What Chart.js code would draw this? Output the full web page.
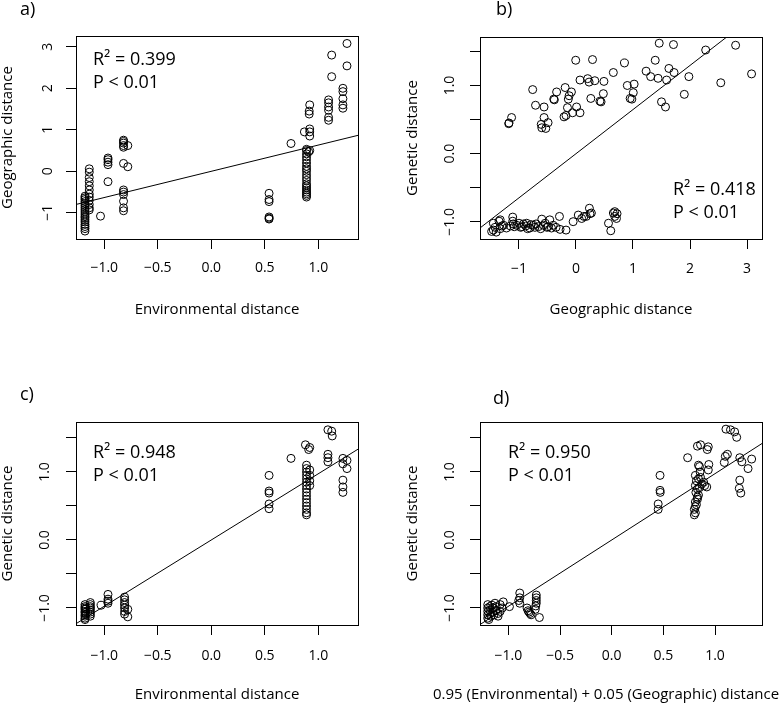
<!DOCTYPE html>
<html>
<head>
<meta charset="utf-8">
<title>Distance regressions</title>
<script src="https://cdn.jsdelivr.net/npm/chart.js@4.4.1/dist/chart.umd.min.js"></script>
<style>
  html, body { margin: 0; padding: 0; background: #fff; }
  #wrap { position: relative; width: 780px; height: 704px; overflow: hidden; }
  #wrap canvas { position: absolute; }
</style>
</head>
<body>
<div id="wrap">
  <canvas id="panelA" width="390" height="352" style="left:0;top:0"></canvas>
  <canvas id="panelB" width="390" height="352" style="left:390px;top:0"></canvas>
  <canvas id="panelC" width="390" height="352" style="left:0;top:352px"></canvas>
  <canvas id="panelD" width="390" height="352" style="left:390px;top:352px"></canvas>
</div>
<script>
/* ── Data ([x, y] pairs) ── */

// a) environmental vs geographic distance
const envGeoA = [
  [-1.18,-0.60],[-1.18,-0.64],[-1.18,-0.68],[-1.18,-0.73],[-1.18,-0.78],[-1.18,-0.83],[-1.18,-0.88],[-1.18,-0.93],
  [-1.18,-0.98],[-1.18,-1.03],[-1.18,-1.08],[-1.18,-1.12],[-1.18,-1.17],[-1.18,-1.22],[-1.18,-1.28],[-1.18,-1.33],
  [-1.18,-1.38],[-1.18,-1.44],
  [-1.14,0.06],[-1.14,-0.02],[-1.14,-0.15],[-1.14,-0.25],[-1.14,-0.35],[-1.14,-0.45],[-1.14,-0.55],[-1.14,-0.62],
  [-1.14,-0.70],[-1.14,-0.80],[-1.14,-0.88],[-1.14,-0.93],
  [-1.035,-1.08],
  [-0.965,0.32],[-0.965,0.28],[-0.965,0.22],[-0.965,0.16],[-0.965,-0.25],
  [-0.82,0.75],[-0.82,0.72],[-0.82,0.68],[-0.82,0.62],[-0.82,0.58],[-0.78,0.62],[-0.82,0.19],[-0.78,0.11],
  [-0.82,-0.45],[-0.82,-0.50],[-0.82,-0.56],[-0.82,-0.72],[-0.82,-0.88],[-0.82,-0.95],
  [0.54,-0.53],[0.54,-0.68],[0.54,-0.73],[0.54,-1.10],[0.54,-1.13],[0.54,-1.15],
  [0.745,0.67],
  [0.89,-0.62],[0.89,-0.58],[0.89,-0.54],[0.89,-0.50],[0.89,-0.45],[0.89,-0.40],[0.89,-0.35],[0.89,-0.30],
  [0.89,-0.22],[0.89,-0.15],[0.89,-0.08],[0.89,0.00],[0.89,0.06],[0.89,0.12],[0.89,0.20],[0.89,0.28],
  [0.89,0.35],[0.89,0.42],[0.89,0.50],[0.89,0.53],
  [0.87,0.95],[0.91,0.47],[0.92,0.50],[0.92,0.85],[0.92,0.95],[0.92,1.02],[0.915,1.38],[0.915,1.45],[0.92,1.60],
  [1.096,1.72],[1.096,1.65],[1.096,1.55],[1.096,1.47],[1.096,1.30],[1.096,1.23],
  [1.125,2.80],[1.125,2.28],
  [1.23,2.00],[1.23,1.92],[1.23,1.75],[1.23,1.60],[1.23,1.52],
  [1.268,3.08],[1.268,2.54]
];

// b) geographic vs genetic distance
const geoGenB = [
  [-1.175,0.45],[-1.18,0.44],[-1.13,0.53],[-0.76,0.94],[-0.71,0.71],[-0.56,0.685],[-0.61,0.43],[-0.56,0.53],
  [-0.60,0.38],[-0.53,0.37],[-0.49,0.455],[-0.39,0.80],[-0.38,0.79],[-0.34,0.905],[-0.19,0.97],[-0.12,0.85],
  [-0.135,0.80],[-0.08,0.905],[-0.15,0.675],[-0.21,0.54],[-0.175,0.56],[-0.06,0.60],[0.01,0.685],[0.07,0.60],
  [-0.005,1.37],[0.07,1.08],[0.205,1.10],[0.23,1.05],[0.29,1.38],[0.33,1.07],[0.49,1.06],[0.48,0.88],
  [0.26,0.81],[0.42,0.77],[0.44,0.76],[0.655,1.19],[0.85,1.33],[0.90,1.00],[1.02,1.02],[1.005,0.895],
  [0.95,0.81],[0.98,0.80],[1.23,1.21],[1.31,1.13],[1.39,1.37],[1.44,1.105],[1.46,1.62],[1.59,1.08],
  [1.63,1.25],[1.72,1.19],[1.71,1.60],[1.50,0.76],[1.57,0.685],[1.90,0.87],[1.98,1.13],[2.275,1.52],
  [2.54,1.04],[2.80,1.59],[3.08,1.17],
  [-1.48,-1.14],[-1.45,-1.02],[-1.45,-1.12],[-1.42,-1.08],[-1.40,-1.15],[-1.35,-0.99],[-1.33,-0.97],[-1.33,-1.10],
  [-1.30,-1.06],[-1.27,-1.05],[-1.22,-1.09],[-1.15,-1.06],[-1.11,-0.93],[-1.11,-0.99],[-1.10,-1.03],[-1.08,-1.07],
  [-1.04,-1.05],[-1.00,-1.02],[-0.97,-1.08],[-0.95,-1.07],[-0.92,-1.03],[-0.88,-1.06],[-0.865,-1.02],[-0.85,-1.10],
  [-0.81,-1.09],[-0.79,-1.04],[-0.75,-1.05],[-0.72,-1.08],[-0.70,-1.03],[-0.66,-1.07],[-0.62,-1.10],[-0.60,-0.96],
  [-0.57,-1.05],[-0.54,-1.02],[-0.51,-1.08],[-0.49,-1.07],[-0.46,-0.97],[-0.43,-1.09],[-0.40,-1.05],[-0.35,-1.08],
  [-0.29,-0.92],[-0.28,-1.11],[-0.175,-1.12],[-0.05,-0.997],[0.04,-0.90],[0.10,-0.95],[0.14,-0.92],[0.18,-0.92],
  [0.235,-0.80],[0.245,-0.88],[0.27,-0.87],[0.57,-1.02],[0.61,-1.13],[0.655,-0.87],[0.68,-0.85],[0.72,-0.88],
  [0.68,-0.92],[0.71,-0.95]
];

// c) environmental vs genetic distance
const envGenC = [
  [-1.18,-0.95],[-1.18,-0.98],[-1.18,-1.00],[-1.18,-1.02],[-1.18,-1.05],[-1.18,-1.07],[-1.18,-1.10],[-1.18,-1.12],
  [-1.18,-1.15],[-1.18,-1.17],[-1.17,-1.01],[-1.17,-1.09],
  [-1.13,-0.92],[-1.13,-0.95],[-1.13,-0.98],[-1.13,-1.00],[-1.13,-1.03],[-1.13,-1.06],[-1.13,-1.09],[-1.13,-1.12],
  [-1.03,-0.96],
  [-0.965,-0.80],[-0.965,-0.87],[-0.965,-0.90],[-0.965,-0.93],
  [-0.81,-0.84],[-0.81,-0.88],[-0.81,-0.92],[-0.81,-0.96],[-0.81,-1.00],[-0.81,-1.05],[-0.81,-1.09],
  [-0.78,-1.02],[-0.78,-1.13],
  [0.54,0.95],[0.54,0.72],[0.54,0.69],[0.54,0.53],[0.54,0.46],
  [0.745,1.20],
  [0.89,1.10],[0.89,1.05],[0.89,1.00],[0.89,0.95],[0.89,0.90],[0.89,0.85],[0.89,0.80],[0.89,0.75],
  [0.89,0.70],[0.89,0.65],[0.89,0.60],[0.89,0.55],[0.89,0.50],[0.89,0.45],[0.89,0.40],[0.89,0.37],
  [0.88,1.40],[0.92,1.36],[0.91,1.33],[0.92,1.03],[0.92,0.95],[0.92,0.87],[0.92,0.80],
  [1.09,1.62],[1.09,1.26],[1.09,1.21],[1.09,1.15],[1.125,1.60],[1.13,1.53],
  [1.23,1.20],[1.23,1.12],[1.23,0.88],[1.23,0.78],[1.23,0.70],[1.268,1.17],[1.268,1.05]
];

// d) 0.95 env + 0.05 geo vs genetic distance
const mixGenD = [
  [-1.20,-0.95],[-1.20,-1.00],[-1.20,-1.05],[-1.20,-1.10],[-1.20,-1.15],[-1.19,-1.17],[-1.18,-0.98],[-1.18,-1.03],
  [-1.18,-1.08],[-1.17,-1.12],[-1.16,-0.96],[-1.15,-1.00],[-1.15,-1.06],[-1.14,-1.10],[-1.13,-0.93],[-1.12,-0.98],
  [-1.12,-1.04],[-1.10,-1.08],[-1.10,-1.12],[-1.08,-0.95],[-1.08,-1.05],[-1.06,-1.00],[-1.05,-0.91],
  [-0.99,-0.98],
  [-0.89,-0.78],[-0.89,-0.85],[-0.90,-0.89],[-0.89,-0.93],
  [-0.73,-0.81],[-0.73,-0.85],[-0.73,-0.89],[-0.73,-0.93],[-0.735,-0.97],[-0.74,-1.02],
  [-0.82,-1.00],[-0.81,-1.04],[-0.80,-1.06],[-0.79,-1.08],[-0.78,-1.10],[-0.70,-1.14],
  [0.468,0.95],[0.468,0.73],[0.47,0.70],[0.45,0.53],[0.45,0.45],
  [0.735,1.21],[0.83,1.38],[0.86,1.40],[0.935,1.37],[0.925,1.33],
  [0.84,1.10],[0.855,1.00],[0.81,0.95],[0.82,0.87],[0.89,0.85],[0.81,0.80],[0.90,0.80],[0.815,0.70],
  [0.83,0.63],[0.81,0.56],[0.81,0.49],[0.80,0.45],[0.81,0.40],[0.80,0.37],[0.94,1.11],[0.935,1.03],
  [0.85,1.08],[0.84,0.90],[0.85,0.77],[0.83,0.75],[0.87,0.82],[0.92,0.78],[0.82,0.52],[0.84,0.66],
  [0.83,0.60],[0.86,0.92],
  [1.10,1.23],[1.12,1.26],[1.09,1.14],[1.106,1.63],[1.15,1.62],[1.19,1.59],[1.21,1.51],
  [1.24,1.21],[1.26,1.15],[1.355,1.19],[1.32,1.05],[1.24,0.88],[1.235,0.76],[1.25,0.69]
];

// regression slopes (standardised, intercept 0) and printed stats
const fitSlopes    = [0.632, 0.647, 0.974, 0.975];
const r2Values     = ['0.399', '0.418', '0.948', '0.950'];
const panelTags    = ['a)', 'b)', 'c)', 'd)'];

// axis ticks and labels
const ticksHalf     = [-1, -0.5, 0, 0.5, 1];
const ticksHalfLbl  = ['\u22121.0', '\u22120.5', '0.0', '0.5', '1.0'];
const ticksUnitGeo  = [-1, 0, 1, 2, 3];
const ticksUnitLbl  = ['\u22121', '0', '1', '2', '3'];
const ticksGen      = [-1, -0.5, 0, 0.5, 1, 1.5];
const ticksGenLbl   = ['\u22121.0', '', '0.0', '', '1.0', ''];

const FONT = '"Open Sans", "Liberation Sans", sans-serif';

/* ── Frame + panel tag + stats text ── */
const panelDecor = {
  id: 'panelDecor',
  afterDraw(chart, args, o) {
    const ctx = chart.ctx, a = chart.chartArea;
    ctx.save();
    ctx.strokeStyle = '#000';
    ctx.lineWidth = 1;
    ctx.strokeRect(Math.round(a.left) + 0.5, Math.round(a.top) + 0.5,
                   Math.round(a.right - a.left), Math.round(a.bottom - a.top));
    ctx.fillStyle = '#000';
    ctx.textBaseline = 'middle';
    ctx.textAlign = 'left';
    ctx.font = '18px ' + FONT;
    ctx.fillText(o.tag, o.tagX, o.tagY);
    ctx.fillText('R\u00b2 = ' + o.r2, o.statX, o.statY);
    ctx.fillText('P < 0.01', o.statX, o.statY + 23);
    if (o.xTitle) {
      ctx.font = '15px ' + FONT;
      ctx.textAlign = 'center';
      ctx.fillText(o.xTitle, o.xTitleX, o.xTitleY);
    }
    ctx.restore();
  }
};

/* ── One scatter panel ── */
function makePanel(id, c) {
  const fitLine = [c.xMin, c.xMax].map(x => ({ x: x, y: c.slope * x }));
  return new Chart(document.getElementById(id), {
    type: 'scatter',
    data: {
      datasets: [
        {
          data: c.points.map(p => ({ x: p[0], y: p[1] })),
          pointRadius: 4, pointHoverRadius: 4,
          borderColor: '#000', borderWidth: 1,
          backgroundColor: 'rgba(0,0,0,0)'
        },
        {
          type: 'line', data: fitLine,
          borderColor: '#000', borderWidth: 1,
          pointRadius: 0, fill: false, tension: 0
        }
      ]
    },
    options: {
      responsive: false,
      animation: false,
      events: [],
      layout: { padding: { top: c.top, right: c.right, left: 0, bottom: 0 } },
      plugins: {
        legend: { display: false },
        tooltip: { enabled: false },
        panelDecor: c.decor
      },
      scales: {
        x: {
          type: 'linear', min: c.xMin, max: c.xMax,
          afterBuildTicks: s => { s.ticks = c.xTicks.map(v => ({ value: v })); },
          afterFit: s => { s.height = c.xAxisH; },
          grid: { drawOnChartArea: false, drawTicks: true, tickLength: 10, color: '#000', lineWidth: 1 },
          border: { display: false },
          ticks: {
            color: '#000', font: { family: FONT, size: 14 }, padding: c.xTickPad,
            autoSkip: false, maxRotation: 0, minRotation: 0,
            callback: (v, i) => c.xLabels[i]
          },
          title: {
            display: !!c.xTitle, text: c.xTitle, color: '#000',
            font: { family: FONT, size: 15, lineHeight: 1 },
            padding: { top: 0, bottom: c.xTitlePad }
          }
        },
        y: {
          type: 'linear', min: c.yMin, max: c.yMax,
          afterBuildTicks: s => { s.ticks = c.yTicks.map(v => ({ value: v })); },
          afterFit: s => { s.width = c.yAxisW; },
          grid: { drawOnChartArea: false, drawTicks: true, tickLength: 10, color: '#000', lineWidth: 1 },
          border: { display: false },
          ticks: {
            color: '#000', font: { family: FONT, size: 14 }, padding: c.yTickPad,
            autoSkip: false, minRotation: 90, maxRotation: 90, crossAlign: 'center',
            callback: (v, i) => c.yLabels[i]
          },
          title: {
            display: true, text: c.yTitle, color: '#000',
            font: { family: FONT, size: 15, lineHeight: 1 },
            padding: { top: c.yTitlePad, bottom: 0 }
          }
        }
      }
    },
    plugins: [panelDecor]
  });
}

makePanel('panelA', {
  points: envGeoA, slope: fitSlopes[0],
  xMin: -1.264, xMax: 1.371, yMin: -1.631, yMax: 3.26,
  top: 36, right: 32, yAxisW: 76, xAxisH: 113,
  xTicks: ticksHalf, xLabels: ticksHalfLbl, yTicks: ticksUnitGeo, yLabels: ticksUnitLbl,
  xTickPad: 11, yTickPad: 10,
  xTitle: 'Environmental distance', xTitlePad: 34.5,
  yTitle: 'Geographic distance', yTitlePad: 0,
  decor: { tag: panelTags[0], tagX: 20, tagY: 10, r2: r2Values[0], statX: 93, statY: 60 }
});

makePanel('panelB', {
  points: geoGenB, slope: fitSlopes[1],
  xMin: -1.684, xMax: 3.263, yMin: -1.251, yMax: 1.711,
  top: 37, right: 18, yAxisW: 90, xAxisH: 113,
  xTicks: ticksUnitGeo, xLabels: ticksUnitLbl, yTicks: ticksGen, yLabels: ticksGenLbl,
  xTickPad: 12, yTickPad: 6,
  xTitle: 'Geographic distance', xTitlePad: 34.5,
  yTitle: 'Genetic distance', yTitlePad: 15,
  decor: { tag: panelTags[1], tagX: 106, tagY: 10, r2: r2Values[1], statX: 283, statY: 190 }
});

makePanel('panelC', {
  points: envGenC, slope: fitSlopes[2],
  xMin: -1.264, xMax: 1.371, yMin: -1.25, yMax: 1.735,
  top: 70, right: 32, yAxisW: 76, xAxisH: 79,
  xTicks: ticksHalf, xLabels: ticksHalfLbl, yTicks: ticksGen, yLabels: ticksGenLbl,
  xTickPad: 13, yTickPad: 7,
  xTitle: 'Environmental distance', xTitlePad: 1.5,
  yTitle: 'Genetic distance', yTitlePad: 0,
  decor: { tag: panelTags[2], tagX: 20, tagY: 43, r2: r2Values[2], statX: 93, statY: 101 }
});

makePanel('panelD', {
  points: mixGenD, slope: fitSlopes[3],
  xMin: -1.275, xMax: 1.455, yMin: -1.25, yMax: 1.735,
  top: 70, right: 18, yAxisW: 90, xAxisH: 79,
  xTicks: ticksHalf, xLabels: ticksHalfLbl, yTicks: ticksGen, yLabels: ticksGenLbl,
  xTickPad: 13, yTickPad: 6,
  xTitle: '', xTitlePad: 0,
  yTitle: 'Genetic distance', yTitlePad: 15,
  decor: {
    tag: panelTags[3], tagX: 103, tagY: 47, r2: r2Values[3], statX: 118, statY: 101,
    xTitle: '0.95 (Environmental) + 0.05 (Geographic) distance', xTitleX: 216, xTitleY: 343
  }
});
</script>
</body>
</html>
